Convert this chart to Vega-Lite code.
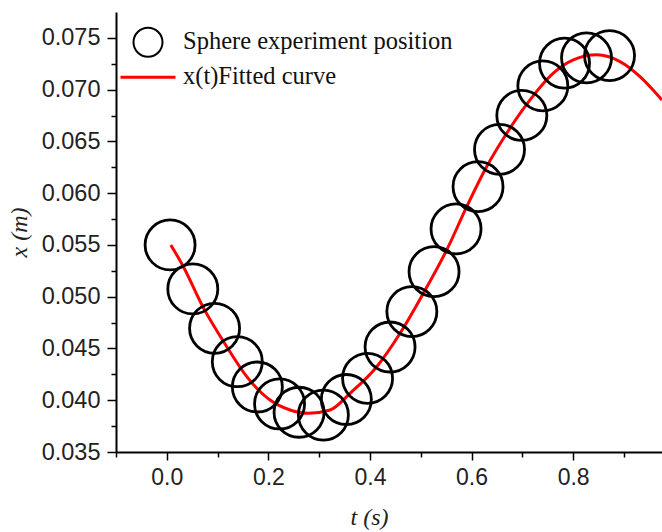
{
  "$schema": "https://vega.github.io/schema/vega-lite/v6.json",
  "autosize": {"type": "none"},
  "padding": {"left": 116, "top": 12, "right": 0, "bottom": 80},
  "width": 546,
  "height": 440,
  "background": "white",
  "config": {"view": {"stroke": null}},
  "datasets": {
    "points": [
      {"t": 0.0065, "x": 0.05500, "series": "Sphere experiment position"},
      {"t": 0.0512, "x": 0.05075, "series": "Sphere experiment position"},
      {"t": 0.0941, "x": 0.04695, "series": "Sphere experiment position"},
      {"t": 0.1388, "x": 0.04372, "series": "Sphere experiment position"},
      {"t": 0.1783, "x": 0.04128, "series": "Sphere experiment position"},
      {"t": 0.2220, "x": 0.03964, "series": "Sphere experiment position"},
      {"t": 0.2604, "x": 0.03884, "series": "Sphere experiment position"},
      {"t": 0.3083, "x": 0.03857, "series": "Sphere experiment position"},
      {"t": 0.3535, "x": 0.04007, "series": "Sphere experiment position"},
      {"t": 0.3953, "x": 0.04212, "series": "Sphere experiment position"},
      {"t": 0.4396, "x": 0.04514, "series": "Sphere experiment position"},
      {"t": 0.4825, "x": 0.04856, "series": "Sphere experiment position"},
      {"t": 0.5262, "x": 0.05242, "series": "Sphere experiment position"},
      {"t": 0.5695, "x": 0.05655, "series": "Sphere experiment position"},
      {"t": 0.6128, "x": 0.06063, "series": "Sphere experiment position"},
      {"t": 0.6551, "x": 0.06423, "series": "Sphere experiment position"},
      {"t": 0.6990, "x": 0.06751, "series": "Sphere experiment position"},
      {"t": 0.7404, "x": 0.07036, "series": "Sphere experiment position"},
      {"t": 0.7831, "x": 0.07256, "series": "Sphere experiment position"},
      {"t": 0.8264, "x": 0.07307, "series": "Sphere experiment position"},
      {"t": 0.8717, "x": 0.07329, "series": "Sphere experiment position"}
    ],
    "curve": [
      {"t": 0.0079, "x": 0.05500, "series": "x(t)Fitted curve"},
      {"t": 0.0327, "x": 0.05290, "series": "x(t)Fitted curve"},
      {"t": 0.0709, "x": 0.04904, "series": "x(t)Fitted curve"},
      {"t": 0.1181, "x": 0.04517, "series": "x(t)Fitted curve"},
      {"t": 0.1575, "x": 0.04228, "series": "x(t)Fitted curve"},
      {"t": 0.2033, "x": 0.04002, "series": "x(t)Fitted curve"},
      {"t": 0.2427, "x": 0.03906, "series": "x(t)Fitted curve"},
      {"t": 0.2787, "x": 0.03874, "series": "x(t)Fitted curve"},
      {"t": 0.3215, "x": 0.03906, "series": "x(t)Fitted curve"},
      {"t": 0.3608, "x": 0.04067, "series": "x(t)Fitted curve"},
      {"t": 0.4134, "x": 0.04324, "series": "x(t)Fitted curve"},
      {"t": 0.4593, "x": 0.04647, "series": "x(t)Fitted curve"},
      {"t": 0.5051, "x": 0.05033, "series": "x(t)Fitted curve"},
      {"t": 0.5512, "x": 0.05452, "series": "x(t)Fitted curve"},
      {"t": 0.5906, "x": 0.05870, "series": "x(t)Fitted curve"},
      {"t": 0.6299, "x": 0.06257, "series": "x(t)Fitted curve"},
      {"t": 0.6693, "x": 0.06579, "series": "x(t)Fitted curve"},
      {"t": 0.7152, "x": 0.06901, "series": "x(t)Fitted curve"},
      {"t": 0.7610, "x": 0.07159, "series": "x(t)Fitted curve"},
      {"t": 0.8004, "x": 0.07287, "series": "x(t)Fitted curve"},
      {"t": 0.8465, "x": 0.07336, "series": "x(t)Fitted curve"},
      {"t": 0.8923, "x": 0.07271, "series": "x(t)Fitted curve"},
      {"t": 0.9317, "x": 0.07126, "series": "x(t)Fitted curve"},
      {"t": 0.9750, "x": 0.06900, "series": "x(t)Fitted curve"}
    ]
  },
  "resolve": {"axis": {"x": "independent", "y": "independent"}},
  "layer": [
    {
      "data": {"name": "curve"},
      "mark": {"type": "line", "strokeWidth": 3, "clip": true, "interpolate": "monotone"},
      "encoding": {
        "x": {"field": "t", "type": "quantitative",
          "scale": {"domain": [-0.1, 0.975], "nice": false, "zero": false},
          "axis": {"orient": "bottom", "values": [-0.1, 0.1, 0.3, 0.5, 0.7, 0.9], "labels": false, "title": null,
            "domain": false, "grid": false, "ticks": true, "tickSize": 5, "tickWidth": 1.5, "tickColor": "black"}},
        "y": {"field": "x", "type": "quantitative",
          "scale": {"domain": [0.035, 0.0775], "nice": false, "zero": false},
          "axis": {"orient": "left", "values": [0.0375, 0.0425, 0.0475, 0.0525, 0.0575, 0.0625, 0.0675, 0.0725], "labels": false, "title": null,
            "domain": false, "grid": false, "ticks": true, "tickSize": 5, "tickWidth": 1.5, "tickColor": "black"}},
        "color": {"field": "series", "type": "nominal",
          "scale": {"domain": ["Sphere experiment position", "x(t)Fitted curve"], "range": ["black", "red"]},
          "legend": {
            "orient": "none", "legendX": 0, "legendY": 18, "title": null, "padding": 0,
            "labelFont": "Liberation Serif", "labelFontSize": 24.5, "labelColor": "#111", "labelLimit": 0,
            "labelOffset": 6, "rowPadding": 3,
            "encode": {
              "symbols": {"update": {
                "x": {"value": 32},
                "shape": {"signal": "datum.value == 'x(t)Fitted curve' ? 'stroke' : 'circle'"},
                "size": {"signal": "datum.value == 'x(t)Fitted curve' ? 3025 : 841"},
                "strokeWidth": {"signal": "datum.value == 'x(t)Fitted curve' ? 3 : 2"},
                "stroke": {"signal": "datum.value == 'x(t)Fitted curve' ? 'red' : 'black'"},
                "fill": {"value": "transparent"}
              }},
              "labels": {"update": {"x": {"value": 67}}}
            }
          }}
      }
    },
    {
      "data": {"name": "points"},
      "mark": {"type": "point", "shape": "circle", "filled": false, "size": 2500, "strokeWidth": 2.8, "opacity": 1},
      "encoding": {
        "x": {"field": "t", "type": "quantitative",
          "axis": {"orient": "bottom", "values": [0, 0.2, 0.4, 0.6, 0.8], "format": ".1f", "title": "t (s)",
            "domainColor": "black", "domainWidth": 2, "grid": false,
            "tickSize": 8, "tickWidth": 1.5, "tickColor": "black",
            "labelFont": "Liberation Sans", "labelFontSize": 23, "labelColor": "#222", "labelPadding": 6,
            "titleFont": "Liberation Serif", "titleFontStyle": "italic", "titleFontWeight": "normal", "titleFontSize": 24, "titleColor": "#222",
            "titlePadding": 16, "titleX": 253}},
        "y": {"field": "x", "type": "quantitative",
          "axis": {"orient": "left", "values": [0.035, 0.04, 0.045, 0.05, 0.055, 0.06, 0.065, 0.07, 0.075], "format": ".3f", "title": "x (m)",
            "domainColor": "black", "domainWidth": 2, "grid": false,
            "tickSize": 9, "tickWidth": 1.5, "tickColor": "black",
            "labelFont": "Liberation Sans", "labelFontSize": 23.5, "labelColor": "#222", "labelPadding": 7,
            "titleFont": "Liberation Serif", "titleFontStyle": "italic", "titleFontWeight": "normal", "titleFontSize": 24, "titleColor": "#222",
            "titlePadding": 10}},
        "color": {"field": "series", "type": "nominal"}
      }
    },
    {
      "mark": {"type": "rule", "strokeWidth": 2, "color": "black"},
      "encoding": {"y": {"datum": 0.0775, "axis": null}}
    }
  ]
}
